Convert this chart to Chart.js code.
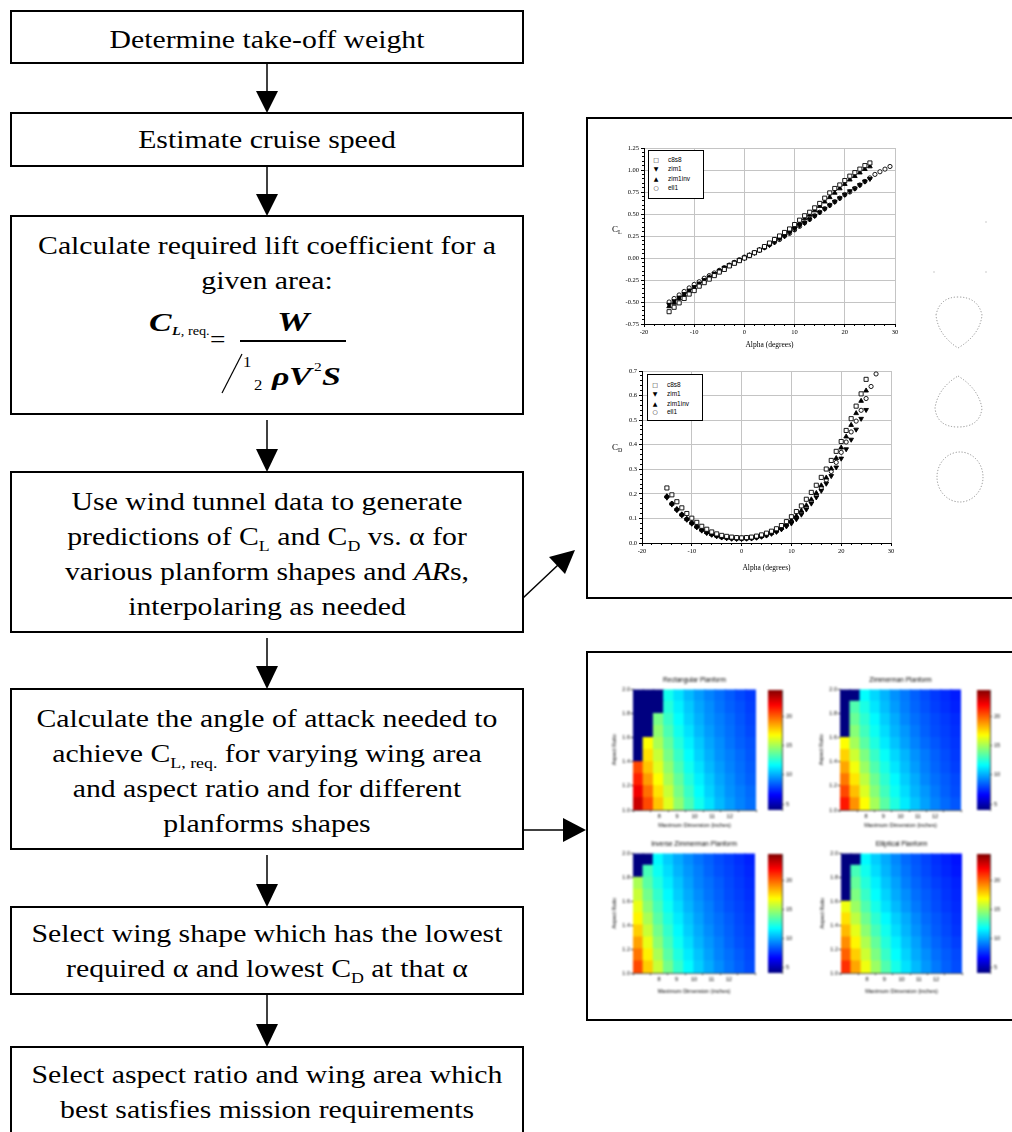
<!DOCTYPE html>
<html>
<head>
<meta charset="utf-8">
<title>Wing sizing flowchart</title>
<script src="https://cdn.jsdelivr.net/npm/chart.js@4.4.0/dist/chart.umd.min.js"></script>
<style>
  body { margin: 0; background: #fff; }
  #page { position: relative; width: 1012px; height: 1132px; overflow: hidden; font-family: "Liberation Serif", "Times New Roman", serif; color: #000; }
  .box { position: absolute; left: 10px; width: 514px; border: 2px solid #000; box-sizing: border-box; }
  .txt { position: absolute; left: 11px; width: 512px; text-align: center; font-size: 25px; line-height: 35px; white-space: nowrap; transform: scaleX(1.19); transform-origin: 256px 0; }
  .txt sub { font-size: 15px; line-height: 0; vertical-align: baseline; position: relative; top: 6px; }
  .fx { position: absolute; line-height: 1; white-space: nowrap; transform: scaleX(1.19); transform-origin: 0 0; }
  .fx.wide { transform: scaleX(1.3); }
  .bi { font-weight: bold; font-style: italic; }
  .panel { position: absolute; left: 586px; width: 440px; border: 2px solid #000; box-sizing: border-box; }
  canvas { position: absolute; }
  .hm { filter: blur(1.3px); }
  .legend { position: absolute; border: 1px solid #000; background: #fff; font-family: "Liberation Sans", Arial, sans-serif; font-size: 6.5px; }
  .legend div { position: absolute; left: 0; height: 9px; line-height: 9px; white-space: nowrap; }
  .legend .mk { position: absolute; left: 3px; width: 8px; text-align: center; font-family: "DejaVu Sans", sans-serif; font-size: 6px; }
  .legend .lb { position: absolute; left: 19px; }
  .ylab { position: absolute; font-size: 9px; line-height: 9px; }
  .ylab sub { font-size: 6px; vertical-align: baseline; position: relative; top: 2px; }
</style>
</head>
<body>
<div id="page">
  <!-- flowchart boxes -->
  <div class="box" style="top:10px; height:54px"></div>
  <div class="txt" style="top:22px">Determine take-off weight</div>

  <div class="box" style="top:112px; height:55px"></div>
  <div class="txt" style="top:122px">Estimate cruise speed</div>

  <div class="box" style="top:215px; height:200px"></div>
  <div class="txt" style="top:228px">Calculate required lift coefficient for a<br>given area:</div>
  <div class="fx wide bi" style="left:149px; top:310.2px; font-size:26px">C</div>
  <div class="fx" style="left:172px; top:325px; font-size:12px"><span class="bi">L</span>, req.</div>
  <div class="fx" style="left:210px; top:327.7px; font-size:23px">=</div>
  <div class="fx wide bi" style="left:277px; top:307.5px; font-size:28px">W</div>
  <div style="position:absolute; left:240px; top:340px; width:106px; height:1.5px; background:#000"></div>
  <div class="fx" style="left:243px; top:356px; font-size:14px">1</div>
  <div class="fx" style="left:254px; top:379px; font-size:14px">2</div>
  <div class="fx wide bi" style="left:272px; top:364.2px; font-size:26px">&rho;</div>
  <div class="fx wide bi" style="left:289px; top:364.2px; font-size:26px">V</div>
  <div class="fx" style="left:314px; top:360px; font-size:13px">2</div>
  <div class="fx wide bi" style="left:322px; top:364.2px; font-size:26px">S</div>

  <div class="box" style="top:471px; height:162px"></div>
  <div class="txt" style="top:484px">Use wind tunnel data to generate<br>predictions of C<sub>L</sub> and C<sub>D</sub> vs. &alpha; for<br>various planform shapes and <i>AR</i>s,<br>interpolaring as needed</div>

  <div class="box" style="top:688px; height:162px"></div>
  <div class="txt" style="top:701px">Calculate the angle of attack needed to<br>achieve C<sub>L, req.</sub> for varying wing area<br>and aspect ratio and for different<br>planforms shapes</div>

  <div class="box" style="top:906px; height:89px"></div>
  <div class="txt" style="top:916px">Select wing shape which has the lowest<br>required &alpha; and lowest C<sub>D</sub> at that &alpha;</div>

  <div class="box" style="top:1046px; height:100px"></div>
  <div class="txt" style="top:1057px">Select aspect ratio and wing area which<br>best satisfies mission requirements</div>

  <!-- arrows and the fraction slash of the formula -->
  <svg width="1012" height="1132" style="position:absolute; left:0; top:0">
    <g stroke="#000" stroke-width="1.5" fill="none">
      <line x1="267" y1="63" x2="267" y2="92"/>
      <line x1="267" y1="166" x2="267" y2="195"/>
      <line x1="267" y1="420" x2="267" y2="450"/>
      <line x1="267" y1="638" x2="267" y2="667"/>
      <line x1="267" y1="855" x2="267" y2="885"/>
      <line x1="267" y1="994" x2="267" y2="1025"/>
      <line x1="523" y1="598" x2="558" y2="565"/>
      <line x1="523" y1="830" x2="564" y2="830"/>
      <line x1="222" y1="393" x2="242" y2="354" stroke-width="1.2"/>
    </g>
    <g fill="#000">
      <polygon points="256,91 278,91 267,113"/>
      <polygon points="256,194 278,194 267,216"/>
      <polygon points="256,449 278,449 267,472"/>
      <polygon points="256,666 278,666 267,689"/>
      <polygon points="256,884 278,884 267,907"/>
      <polygon points="256,1024 278,1024 267,1047"/>
      <polygon points="549,557 565,574 575,550"/>
      <polygon points="563,818 563,842 586,830"/>
    </g>
  </svg>

  <!-- wind tunnel panel -->
  <div class="panel" style="top:117px; height:482px"></div>
  <canvas id="liftChart" width="315" height="235" style="left:595px; top:125px"></canvas>
  <canvas id="dragChart" width="315" height="229" style="left:595px; top:350px"></canvas>
  <div class="ylab" style="left:612px; top:225px">C<sub>L</sub></div>
  <div class="ylab" style="left:612px; top:443px">C<sub>D</sub></div>
  <div class="legend" style="left:648px; top:150px; width:54px; height:47px">
    <div style="top:4px"><span class="mk">&#9633;</span><span class="lb">c8s8</span></div>
    <div style="top:13px"><span class="mk">&#9660;</span><span class="lb">zim1</span></div>
    <div style="top:23px"><span class="mk">&#9650;</span><span class="lb">zim1inv</span></div>
    <div style="top:32px"><span class="mk">&#9675;</span><span class="lb">ell1</span></div>
  </div>
  <div class="legend" style="left:647px; top:374px; width:54px; height:45px">
    <div style="top:5px"><span class="mk">&#9633;</span><span class="lb">c8s8</span></div>
    <div style="top:14px"><span class="mk">&#9660;</span><span class="lb">zim1</span></div>
    <div style="top:24px"><span class="mk">&#9650;</span><span class="lb">zim1inv</span></div>
    <div style="top:32px"><span class="mk">&#9675;</span><span class="lb">ell1</span></div>
  </div>
  <svg width="80" height="300" style="position:absolute; left:925px; top:215px">
    <g stroke="#777" stroke-width="0.8" fill="none" stroke-dasharray="1.2 1.8">
      <path d="M11 100 Q15 82 33 82 Q53 82 57 100 Q55 120 33 133 Q13 120 11 100 Z"/>
      <path d="M33 161 Q53 173 57 193 Q55 212 33 212 Q12 212 10 193 Q13 173 33 161 Z"/>
      <ellipse cx="35" cy="262" rx="23" ry="25"/>
    </g>
    <g fill="#999">
      <rect x="60.5" y="6.5" width="1" height="1"/>
      <rect x="8.5" y="56.5" width="1" height="1"/>
      <rect x="60.5" y="56.5" width="1" height="1"/>
    </g>
  </svg>

  <!-- angle of attack maps panel -->
  <div class="panel" style="top:651px; height:370px"></div>
  <canvas id="hmRect" class="hm" width="160" height="165" style="left:600px; top:672px"></canvas>
  <canvas id="cbRect" class="hm" width="40" height="132" style="left:766px; top:684px"></canvas>
  <canvas id="hmZim" class="hm" width="158" height="165" style="left:807px; top:672px"></canvas>
  <canvas id="cbZim" class="hm" width="39" height="132" style="left:975px; top:684px"></canvas>
  <canvas id="hmInv" class="hm" width="159" height="164" style="left:600px; top:836px"></canvas>
  <canvas id="cbInv" class="hm" width="40" height="131" style="left:766px; top:848px"></canvas>
  <canvas id="hmEll" class="hm" width="158" height="164" style="left:808px; top:836px"></canvas>
  <canvas id="cbEll" class="hm" width="39" height="131" style="left:975px; top:848px"></canvas>
</div>

<script>
// ---- lift / drag polars ----
const alphaDeg = [-15, -14, -13, -12, -11, -10, -9, -8, -7, -6, -5, -4, -3, -2, -1, 0, 1, 2, 3, 4, 5, 6, 7, 8, 9, 10, 11, 12, 13, 14, 15, 16, 17, 18, 19, 20, 21, 22, 23, 24, 25];
const alphaEll1Lift = [-15, -14, -13, -12, -11, -10, -9, -8, -7, -6, -5, -4, -3, -2, -1, 0, 1, 2, 3, 4, 5, 6, 7, 8, 9, 10, 11, 12, 13, 14, 15, 16, 17, 18, 19, 20, 21, 22, 23, 24, 25, 26, 27, 28, 29];
const alphaEll1Drag = [-15, -14, -13, -12, -11, -10, -9, -8, -7, -6, -5, -4, -3, -2, -1, 0, 1, 2, 3, 4, 5, 6, 7, 8, 9, 10, 11, 12, 13, 14, 15, 16, 17, 18, 19, 20, 21, 22, 23, 24, 25, 26, 27];

const clC8s8 = [-0.61, -0.56, -0.51, -0.46, -0.41, -0.37, -0.32, -0.28, -0.24, -0.20, -0.16, -0.13, -0.09, -0.06, -0.03, 0.00, 0.03, 0.06, 0.09, 0.13, 0.17, 0.21, 0.25, 0.29, 0.33, 0.38, 0.43, 0.48, 0.52, 0.57, 0.62, 0.68, 0.74, 0.79, 0.83, 0.88, 0.93, 0.97, 1.01, 1.05, 1.08];
const clZim1 = [-0.53, -0.49, -0.45, -0.41, -0.37, -0.33, -0.29, -0.25, -0.22, -0.18, -0.15, -0.11, -0.08, -0.05, -0.02, 0.00, 0.03, 0.06, 0.09, 0.12, 0.15, 0.18, 0.22, 0.25, 0.29, 0.33, 0.37, 0.40, 0.44, 0.48, 0.52, 0.56, 0.60, 0.64, 0.68, 0.72, 0.76, 0.79, 0.83, 0.87, 0.90];
const clZim1inv = [-0.55, -0.51, -0.46, -0.42, -0.38, -0.34, -0.30, -0.26, -0.22, -0.19, -0.15, -0.12, -0.09, -0.06, -0.03, 0.00, 0.03, 0.06, 0.09, 0.12, 0.16, 0.20, 0.23, 0.27, 0.31, 0.36, 0.40, 0.45, 0.49, 0.54, 0.59, 0.64, 0.69, 0.74, 0.79, 0.84, 0.89, 0.93, 0.97, 1.01, 1.04];
const clEll1 = [-0.50, -0.46, -0.42, -0.38, -0.34, -0.30, -0.27, -0.23, -0.20, -0.17, -0.14, -0.11, -0.08, -0.05, -0.02, 0.01, 0.03, 0.06, 0.09, 0.12, 0.15, 0.18, 0.21, 0.25, 0.28, 0.32, 0.36, 0.40, 0.44, 0.48, 0.52, 0.56, 0.60, 0.64, 0.68, 0.72, 0.75, 0.79, 0.83, 0.87, 0.91, 0.95, 0.98, 1.01, 1.04];

const cdC8s8 = [0.224, 0.196, 0.168, 0.143, 0.120, 0.101, 0.084, 0.068, 0.056, 0.045, 0.037, 0.031, 0.027, 0.024, 0.022, 0.021, 0.022, 0.024, 0.028, 0.033, 0.040, 0.048, 0.058, 0.071, 0.087, 0.107, 0.128, 0.151, 0.178, 0.206, 0.235, 0.267, 0.301, 0.336, 0.373, 0.413, 0.458, 0.506, 0.557, 0.607, 0.666];
const cdZim1 = [0.185, 0.157, 0.134, 0.113, 0.095, 0.079, 0.064, 0.051, 0.041, 0.034, 0.028, 0.023, 0.020, 0.018, 0.017, 0.017, 0.018, 0.019, 0.022, 0.026, 0.031, 0.038, 0.046, 0.056, 0.068, 0.080, 0.097, 0.116, 0.137, 0.161, 0.186, 0.213, 0.242, 0.273, 0.308, 0.344, 0.382, 0.421, 0.462, 0.506, 0.542];
const cdZim1inv = [0.190, 0.160, 0.138, 0.116, 0.098, 0.082, 0.067, 0.054, 0.044, 0.036, 0.030, 0.025, 0.022, 0.020, 0.019, 0.018, 0.019, 0.021, 0.024, 0.028, 0.034, 0.041, 0.050, 0.061, 0.076, 0.092, 0.110, 0.131, 0.153, 0.177, 0.203, 0.234, 0.266, 0.303, 0.345, 0.388, 0.433, 0.480, 0.528, 0.578, 0.620];
const cdEll1 = [0.188, 0.160, 0.136, 0.115, 0.097, 0.081, 0.066, 0.053, 0.043, 0.035, 0.029, 0.024, 0.021, 0.019, 0.018, 0.018, 0.019, 0.020, 0.023, 0.027, 0.032, 0.040, 0.048, 0.059, 0.072, 0.086, 0.103, 0.123, 0.145, 0.169, 0.195, 0.224, 0.256, 0.291, 0.328, 0.369, 0.411, 0.452, 0.496, 0.540, 0.588, 0.637, 0.688];

// ---- required angle of attack (deg) vs maximum dimension and aspect ratio ----
// rows run from aspect ratio 1.0 (bottom) to 2.0 (top); null = no solution (dark blue corner)
const dimCenters = ['7.25', '7.75', '8.25', '8.75', '9.25', '9.75', '10.25', '10.75', '11.25', '11.75', '12.25', '12.75'];
const arRows = [[1.0, 1.1], [1.1, 1.2], [1.2, 1.3], [1.3, 1.4], [1.4, 1.5], [1.5, 1.6], [1.6, 1.7], [1.7, 1.8], [1.8, 1.9], [1.9, 2.0]];
const colorRange = [4, 24.5];

const rectAlpha = [
  [23.0, 20.5, 18.0, 16.2, 14.6, 13.2, 12.0, 11.1, 10.3, 9.7, 9.2, 8.8],
  [22.2, 19.7, 17.4, 15.7, 14.1, 12.8, 11.7, 10.8, 10.1, 9.5, 9.1, 8.7],
  [21.3, 18.8, 16.8, 15.1, 13.7, 12.4, 11.4, 10.6, 9.9, 9.4, 8.9, 8.5],
  [20.5, 18.0, 16.2, 14.6, 13.2, 12.0, 11.1, 10.3, 9.7, 9.2, 8.8, 8.4],
  [null, 17.4, 15.7, 14.1, 12.8, 11.7, 10.8, 10.1, 9.5, 9.1, 8.7, 8.3],
  [null, 16.8, 15.1, 13.7, 12.4, 11.4, 10.6, 9.9, 9.4, 8.9, 8.5, 8.2],
  [null, null, 14.6, 13.2, 12.0, 11.1, 10.3, 9.7, 9.2, 8.8, 8.4, 8.0],
  [null, null, 14.1, 12.8, 11.7, 10.8, 10.1, 9.5, 9.1, 8.7, 8.3, 7.9],
  [null, null, null, 12.4, 11.4, 10.6, 9.9, 9.4, 8.9, 8.5, 8.2, 7.8],
  [null, null, null, 12.0, 11.1, 10.3, 9.7, 9.2, 8.8, 8.4, 8.0, 7.7]
];
const zimAlpha = [
  [21.5, 19.0, 16.8, 15.0, 13.5, 12.3, 11.3, 10.5, 9.8, 9.2, 8.7, 8.3],
  [20.5, 18.1, 16.1, 14.4, 13.0, 11.9, 11.0, 10.2, 9.6, 9.0, 8.5, 8.1],
  [19.5, 17.3, 15.5, 13.9, 12.6, 11.6, 10.7, 10.0, 9.3, 8.8, 8.4, 8.0],
  [18.6, 16.6, 14.8, 13.3, 12.2, 11.2, 10.4, 9.7, 9.1, 8.6, 8.2, 7.8],
  [17.7, 15.8, 14.2, 12.8, 11.8, 10.9, 10.2, 9.5, 9.0, 8.5, 8.1, 7.7],
  [16.8, 15.0, 13.5, 12.3, 11.3, 10.5, 9.8, 9.2, 8.7, 8.3, 7.9, 7.6],
  [null, 14.4, 13.0, 11.9, 11.0, 10.2, 9.6, 9.0, 8.5, 8.1, 7.8, 7.5],
  [null, 13.8, 12.6, 11.6, 10.7, 10.0, 9.3, 8.8, 8.4, 8.0, 7.7, 7.4],
  [null, 13.3, 12.2, 11.2, 10.4, 9.7, 9.1, 8.6, 8.2, 7.8, 7.5, 7.2],
  [null, null, 11.7, 10.9, 10.2, 9.5, 9.0, 8.5, 8.1, 7.7, 7.4, 7.1]
];
const invAlpha = [
  [20.5, 17.8, 15.7, 14.0, 12.7, 11.6, 10.7, 10.0, 9.4, 8.9, 8.5, 8.1],
  [19.6, 17.1, 15.1, 13.5, 12.3, 11.3, 10.5, 9.8, 9.2, 8.8, 8.4, 8.0],
  [18.7, 16.4, 14.5, 13.1, 11.9, 11.0, 10.2, 9.6, 9.1, 8.6, 8.2, 7.9],
  [17.8, 15.7, 14.0, 12.7, 11.6, 10.7, 10.0, 9.4, 8.9, 8.5, 8.1, 7.8],
  [17.0, 15.1, 13.5, 12.3, 11.3, 10.5, 9.8, 9.2, 8.8, 8.4, 8.0, 7.7],
  [16.4, 14.5, 13.1, 11.9, 11.0, 10.2, 9.6, 9.1, 8.6, 8.2, 7.9, 7.6],
  [15.7, 14.0, 12.7, 11.6, 10.7, 10.0, 9.4, 8.9, 8.5, 8.1, 7.8, 7.5],
  [15.1, 13.5, 12.3, 11.3, 10.5, 9.8, 9.2, 8.8, 8.4, 8.0, 7.7, 7.4],
  [null, 13.1, 11.9, 11.0, 10.2, 9.6, 9.1, 8.6, 8.2, 7.9, 7.6, 7.3],
  [null, null, 11.6, 10.7, 10.0, 9.4, 8.9, 8.5, 8.1, 7.8, 7.5, 7.2]
];
const ellAlpha = [
  [21.0, 18.6, 16.5, 14.8, 13.3, 12.1, 11.1, 10.3, 9.6, 9.0, 8.5, 8.1],
  [20.0, 17.8, 15.8, 14.2, 12.8, 11.7, 10.8, 10.0, 9.4, 8.8, 8.4, 8.0],
  [19.1, 17.0, 15.2, 13.7, 12.4, 11.4, 10.5, 9.8, 9.1, 8.6, 8.2, 7.8],
  [18.2, 16.3, 14.5, 13.1, 12.0, 11.0, 10.2, 9.5, 8.9, 8.4, 8.0, 7.6],
  [17.4, 15.5, 13.9, 12.6, 11.6, 10.7, 10.0, 9.3, 8.7, 8.3, 7.9, 7.5],
  [16.5, 14.8, 13.3, 12.1, 11.1, 10.3, 9.6, 9.0, 8.5, 8.1, 7.7, 7.4],
  [null, 14.2, 12.8, 11.7, 10.8, 10.0, 9.4, 8.8, 8.4, 8.0, 7.6, 7.3],
  [null, 13.7, 12.4, 11.4, 10.5, 9.8, 9.1, 8.6, 8.2, 7.8, 7.5, 7.2],
  [null, 13.1, 12.0, 11.0, 10.2, 9.5, 8.9, 8.4, 8.0, 7.6, 7.3, 7.0],
  [null, null, 11.6, 10.7, 10.0, 9.3, 8.7, 8.3, 7.9, 7.5, 7.2, 6.9]
];

const serif = 'Liberation Serif';
const sans = 'Liberation Sans';

function points(xs, ys) {
  return xs.map((x, i) => ({ x: x, y: ys[i] }));
}

function series(label, xs, ys, style, rotation, fill, radius) {
  return {
    label: label,
    data: points(xs, ys),
    xAxisID: 'x',
    yAxisID: 'y',
    pointStyle: style,
    rotation: rotation,
    pointRadius: radius,
    pointBorderWidth: 0.9,
    borderColor: '#000',
    backgroundColor: fill,
    showLine: false
  };
}

function makePolarChart(id, cfg) {
  var tickFont = { family: serif, size: 6.5 };
  return new Chart(document.getElementById(id), {
    type: 'scatter',
    data: { datasets: cfg.datasets },
    options: {
      responsive: false,
      animation: false,
      layout: { padding: cfg.padding },
      plugins: { legend: { display: false }, tooltip: { enabled: false } },
      scales: {
        x: {
          type: 'linear', min: -20, max: 30,
          ticks: { stepSize: 10, font: tickFont, color: '#000', padding: 1, maxRotation: 0 },
          grid: { color: '#c4c4c4', tickColor: '#000', tickLength: 3 },
          border: { color: '#000' },
          title: { display: true, text: 'Alpha (degrees)', color: '#000', font: { family: serif, size: 7.5 }, padding: { top: 0, bottom: cfg.titlePad } },
          afterFit: function (s) { s.height = cfg.xHeight; }
        },
        y: {
          type: 'linear', min: cfg.yMin, max: cfg.yMax,
          ticks: { stepSize: cfg.yStep, font: tickFont, color: '#000', padding: 2, callback: function (v) { return v.toFixed(cfg.digits); } },
          grid: { color: '#c4c4c4', tickColor: '#000', tickLength: 3 },
          border: { color: '#000' },
          afterFit: function (s) { s.width = cfg.yWidth; }
        },
        xMinor: {
          type: 'linear', axis: 'x', position: { y: cfg.yMin }, min: -20, max: 30,
          ticks: { display: false, stepSize: 2 },
          grid: { drawOnChartArea: false, tickColor: '#000', tickLength: 2 },
          border: { display: false }
        },
        yMinor: {
          type: 'linear', axis: 'y', position: { x: -20 }, min: cfg.yMin, max: cfg.yMax,
          ticks: { display: false, stepSize: cfg.yMinorStep },
          grid: { drawOnChartArea: false, tickColor: '#000', tickLength: 2 },
          border: { display: false }
        }
      }
    }
  });
}

makePolarChart('liftChart', {
  datasets: [
    series('c8s8', alphaDeg, clC8s8, 'rect', 0, '#fff', 2.9),
    series('zim1', alphaDeg, clZim1, 'triangle', 180, '#000', 2.7),
    series('zim1inv', alphaDeg, clZim1inv, 'triangle', 0, '#000', 2.7),
    series('ell1', alphaEll1Lift, clEll1, 'circle', 0, '#fff', 2.1)
  ],
  padding: { top: 23, right: 15, left: 0, bottom: 0 },
  yMin: -0.75, yMax: 1.25, yStep: 0.25, yMinorStep: 0.05, digits: 2,
  yWidth: 49, xHeight: 36, titlePad: 10
});

makePolarChart('dragChart', {
  datasets: [
    series('c8s8', alphaDeg, cdC8s8, 'rect', 0, '#fff', 2.9),
    series('zim1', alphaDeg, cdZim1, 'triangle', 180, '#000', 2.7),
    series('zim1inv', alphaDeg, cdZim1inv, 'triangle', 0, '#000', 2.7),
    series('ell1', alphaEll1Drag, cdEll1, 'circle', 0, '#fff', 2.1)
  ],
  padding: { top: 21, right: 19, left: 0, bottom: 0 },
  yMin: 0, yMax: 0.7, yStep: 0.1, yMinorStep: 0.02, digits: 1,
  yWidth: 47, xHeight: 36, titlePad: 6
});

// jet colour map, t in [0, 1]
function jet(t) {
  t = Math.min(1, Math.max(0, t));
  var c = function (k) { return Math.round(255 * Math.min(1, Math.max(0, 1.5 - Math.abs(4 * t - k)))); };
  return 'rgb(' + c(3) + ',' + c(2) + ',' + c(1) + ')';
}

function cellColor(v) {
  if (v === null) return jet(0);
  return jet((v - colorRange[0]) / (colorRange[1] - colorRange[0]));
}

function makeHeatmap(id, title, values, titlePad) {
  var small = { family: sans, size: 5.5 };
  return new Chart(document.getElementById(id), {
    type: 'bar',
    data: {
      labels: dimCenters,
      datasets: arRows.map(function (row, i) {
        return {
          data: dimCenters.map(function () { return row; }),
          backgroundColor: values[i].map(cellColor),
          xAxisID: 'x', yAxisID: 'y',
          grouped: false, barPercentage: 1, categoryPercentage: 1,
          borderWidth: 0, inflateAmount: 0.6
        };
      })
    },
    options: {
      responsive: false,
      animation: false,
      layout: { padding: { top: 0, right: 4, left: 0, bottom: 0 } },
      plugins: {
        legend: { display: false },
        tooltip: { enabled: false },
        title: { display: true, text: title, fullSize: false, color: '#000', font: { family: sans, size: 6.5, weight: 'normal' }, padding: { top: 4.8, bottom: 4.8 } }
      },
      scales: {
        x: { type: 'category', display: false },
        y: {
          type: 'linear', min: 1, max: 2,
          ticks: { stepSize: 0.2, font: small, color: '#000', padding: 1 },
          grid: { drawOnChartArea: false, tickLength: 2, tickColor: '#333' },
          border: { color: '#555' },
          title: { display: true, text: 'Aspect Ratio', color: '#000', font: small, padding: { top: 11, bottom: 0 } },
          afterFit: function (s) { s.width = 33; }
        },
        xt: {
          type: 'linear', axis: 'x', position: 'bottom', min: 7, max: 13,
          ticks: { stepSize: 1, font: small, color: '#000', padding: 1, maxRotation: 0, callback: function (v) { return (v > 7 && v < 13) ? v : ''; } },
          grid: { drawOnChartArea: false, tickLength: 2, tickColor: '#333' },
          border: { color: '#555' },
          title: { display: true, text: 'Maximum Dimension (inches)', color: '#000', font: small, padding: { top: 0, bottom: titlePad } },
          afterFit: function (s) { s.height = 27; }
        }
      }
    }
  });
}

function jetGradient(chart) {
  var area = chart.chartArea;
  if (!area) return jet(0);
  var y = chart.scales.y;
  var g = chart.ctx.createLinearGradient(0, y.getPixelForValue(colorRange[0]), 0, y.getPixelForValue(colorRange[1]));
  [0, 0.125, 0.375, 0.625, 0.875, 1].forEach(function (t) { g.addColorStop(t, jet(t)); });
  return g;
}

function makeColorbar(id) {
  return new Chart(document.getElementById(id), {
    type: 'bar',
    data: {
      labels: [''],
      datasets: [{
        data: [colorRange],
        backgroundColor: function (ctx) { return jetGradient(ctx.chart); },
        barPercentage: 1, categoryPercentage: 1, borderWidth: 0
      }]
    },
    options: {
      responsive: false,
      animation: false,
      layout: { padding: { top: 6, right: 0, left: 2, bottom: 6 } },
      plugins: { legend: { display: false }, tooltip: { enabled: false } },
      scales: {
        x: { display: false },
        y: {
          position: 'right', min: colorRange[0], max: colorRange[1],
          ticks: { stepSize: 5, includeBounds: false, font: { family: sans, size: 5.5 }, color: '#000', padding: 2 },
          grid: { drawOnChartArea: false, tickLength: 2, tickColor: '#333' },
          border: { color: '#555' },
          afterFit: function (s) { s.width = 24; }
        }
      }
    }
  });
}

makeHeatmap('hmRect', 'Rectangular Planform', rectAlpha, 8.4);
makeHeatmap('hmZim', 'Zimmerman Planform', zimAlpha, 8.4);
makeHeatmap('hmInv', 'Inverse Zimmerman Planform', invAlpha, 5);
makeHeatmap('hmEll', 'Elliptical Planform', ellAlpha, 5);
['cbRect', 'cbZim', 'cbInv', 'cbEll'].forEach(makeColorbar);
</script>
</body>
</html>
